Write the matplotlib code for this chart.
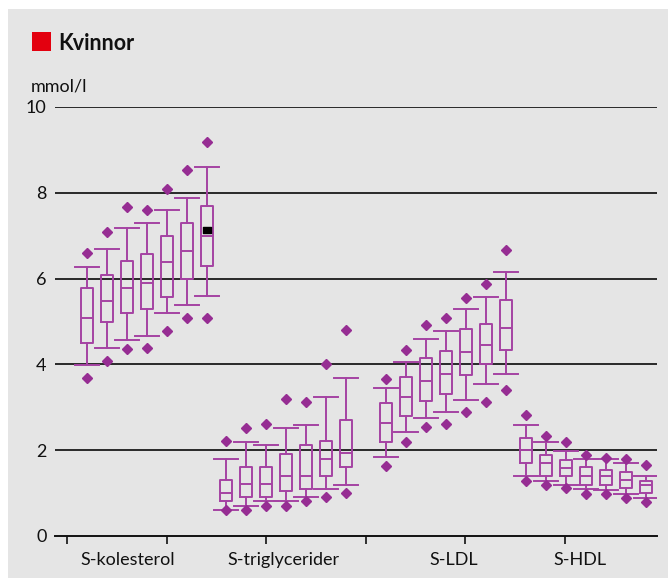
import matplotlib
matplotlib.use("Agg")
import matplotlib.pyplot as plt
from matplotlib.patches import Rectangle
from matplotlib.path import Path

plt.rcParams['font.family'] = ['Lato', 'DejaVu Sans']

# ---------------- data (mmol/l) ----------------
categories = ["S-kolesterol", "S-triglycerider", "S-LDL", "S-HDL"]

chol_whislo = [3.98, 4.39, 4.58, 4.67, 5.19, 5.39, 5.60]
chol_q1     = [4.49, 4.98, 5.19, 5.28, 5.58, 5.98, 6.29]
chol_med    = [5.08, 5.48, 5.79, 5.89, 6.38, 6.64, 6.99]
chol_q3     = [5.79, 6.09, 6.41, 6.58, 7.00, 7.29, 7.69]
chol_whishi = [6.28, 6.69, 7.18, 7.30, 7.60, 7.88, 8.60]
chol_out_lo = [3.69, 4.08, 4.37, 4.38, 4.79, 5.09, 5.09]
chol_out_hi = [6.59, 7.09, 7.66, 7.60, 8.10, 8.53, 9.19]

trig_whislo = [0.60, 0.70, 0.81, 0.81, 0.90, 1.10, 1.20]
trig_q1     = [0.81, 0.91, 0.91, 1.06, 1.10, 1.41, 1.60]
trig_med    = [1.01, 1.21, 1.21, 1.41, 1.41, 1.80, 1.94]
trig_q3     = [1.30, 1.61, 1.61, 1.90, 2.11, 2.22, 2.71]
trig_whishi = [1.80, 2.20, 2.11, 2.51, 2.59, 3.25, 3.69]
trig_out_lo = [0.61, 0.61, 0.71, 0.71, 0.81, 0.91, 1.00]
trig_out_hi = [2.22, 2.51, 2.60, 3.19, 3.12, 4.01, 4.80]

ldl_whislo = [1.83, 2.43, 2.74, 2.89, 3.16, 3.54, 3.78]
ldl_q1     = [2.20, 2.80, 3.15, 3.30, 3.75, 4.00, 4.33]
ldl_med    = [2.64, 3.24, 3.62, 3.78, 4.28, 4.46, 4.86]
ldl_q3     = [3.10, 3.71, 4.15, 4.32, 4.83, 4.95, 5.50]
ldl_whishi = [3.45, 4.06, 4.60, 4.78, 5.29, 5.57, 6.15]
ldl_out_lo = [1.64, 2.20, 2.53, 2.60, 2.90, 3.13, 3.40]
ldl_out_hi = [3.66, 4.33, 4.92, 5.07, 5.54, 5.87, 6.67]

hdl_whislo = [1.39, 1.28, 1.19, 1.09, 1.08, 0.98, 0.89]
hdl_q1     = [1.69, 1.39, 1.39, 1.19, 1.19, 1.11, 1.00]
hdl_med    = [2.00, 1.70, 1.59, 1.39, 1.39, 1.31, 1.19]
hdl_q3     = [2.29, 1.88, 1.78, 1.60, 1.54, 1.49, 1.29]
hdl_whishi = [2.59, 2.19, 1.98, 1.79, 1.79, 1.70, 1.39]
hdl_out_lo = [1.29, 1.18, 1.11, 0.99, 0.99, 0.88, 0.79]
hdl_out_hi = [2.81, 2.33, 2.19, 1.89, 1.81, 1.80, 1.66]

# a single black marker shown in the last cholesterol box
chol_marker_value = 7.13

y_ticks = [0, 2, 4, 6, 8, 10]

groups = [
    (chol_whislo, chol_q1, chol_med, chol_q3, chol_whishi, chol_out_lo, chol_out_hi),
    (trig_whislo, trig_q1, trig_med, trig_q3, trig_whishi, trig_out_lo, trig_out_hi),
    (ldl_whislo, ldl_q1, ldl_med, ldl_q3, ldl_whishi, ldl_out_lo, ldl_out_hi),
    (hdl_whislo, hdl_q1, hdl_med, hdl_q3, hdl_whishi, hdl_out_lo, hdl_out_hi),
]

# ---------------- layout (pixel-based x axis) ----------------
W, H = 668, 578
fig = plt.figure(figsize=(W / 100, H / 100), dpi=100)
fig.patch.set_facecolor('white')
fig.patches.append(Rectangle((8 / W, 0), (W - 8) / W, (H - 9) / H,
                             transform=fig.transFigure, facecolor='#e5e5e5',
                             edgecolor='none', zorder=-10))

ax_left, ax_right, ax_top, ax_bottom = 55, 657, 107, 536
ax = fig.add_axes([ax_left / W, (H - ax_bottom) / H,
                   (ax_right - ax_left) / W, (ax_bottom - ax_top) / H])
ax.set_facecolor('none')
ax.set_xlim(ax_left, ax_right)
ax.set_ylim(0, 10)

group_start = [87, 226, 386, 526]
box_step = 20
box_w = 12
cap_w = 24

line_col = '#a543a3'
dot_col = '#962d93'

stats = []
positions = []
for g, (wlo, q1, med, q3, whi, olo, ohi) in enumerate(groups):
    for i in range(len(med)):
        stats.append(dict(whislo=wlo[i], q1=q1[i], med=med[i], q3=q3[i],
                          whishi=whi[i], fliers=[olo[i], ohi[i]]))
        positions.append(group_start[g] + box_step * i)

lp = dict(color=line_col, linewidth=1.4)
ax.bxp(stats, positions=positions, widths=box_w, capwidths=cap_w,
       showfliers=True, manage_ticks=False,
       boxprops=lp, whiskerprops=lp, capprops=lp, medianprops=lp,
       flierprops=dict(marker='D', markerfacecolor=dot_col,
                       markeredgecolor=dot_col, markersize=4.8, linestyle='none'))

# black marker (wide rectangle) in last cholesterol box
rect_marker = Path([(-0.75, -0.5), (0.75, -0.5), (0.75, 0.5), (-0.75, 0.5), (-0.75, -0.5)],
                   [Path.MOVETO, Path.LINETO, Path.LINETO, Path.LINETO, Path.CLOSEPOLY])
ax.plot([positions[6]], [chol_marker_value], marker=rect_marker, color='black',
        markersize=6, zorder=5, linestyle='none')

# grid / axes
ax.set_yticks(y_ticks)
ax.set_yticklabels([str(v) for v in y_ticks], fontsize=13, color='#111111')
for v in y_ticks[1:]:
    ax.axhline(v, color='#111111', linewidth=1.25, zorder=1)
ax.tick_params(axis='y', length=0, pad=6)

x_tick_pos = [67 + 99.6 * k for k in range(6)]
ax.set_xticks(x_tick_pos)
ax.set_xticklabels([])
ax.tick_params(axis='x', direction='out', length=6, width=1.2, color='#111111')

for s in ['left', 'right', 'top']:
    ax.spines[s].set_visible(False)
ax.spines['bottom'].set_color('#111111')
ax.spines['bottom'].set_linewidth(1.4)

label_x = [128, 283, 454, 580]
for lx, name in zip(label_x, categories):
    ax.text(lx, -0.55, name, ha='center', va='center', fontsize=13,
            color='#111111', transform=ax.transData)

# title and unit
fig.patches.append(Rectangle((32 / W, 1 - 51 / H), 19 / W, 19 / H,
                             transform=fig.transFigure, facecolor='#e3000f',
                             edgecolor='none'))
fig.text(58 / W, 1 - 43 / H, "Kvinnor", fontsize=15.5, fontweight='bold',
         ha='left', va='center', color='#111111')
fig.text(31 / W, 1 - 86 / H, "mmol/l", fontsize=13, ha='left', va='center',
         color='#111111')

fig.savefig("out.png", dpi=100)
